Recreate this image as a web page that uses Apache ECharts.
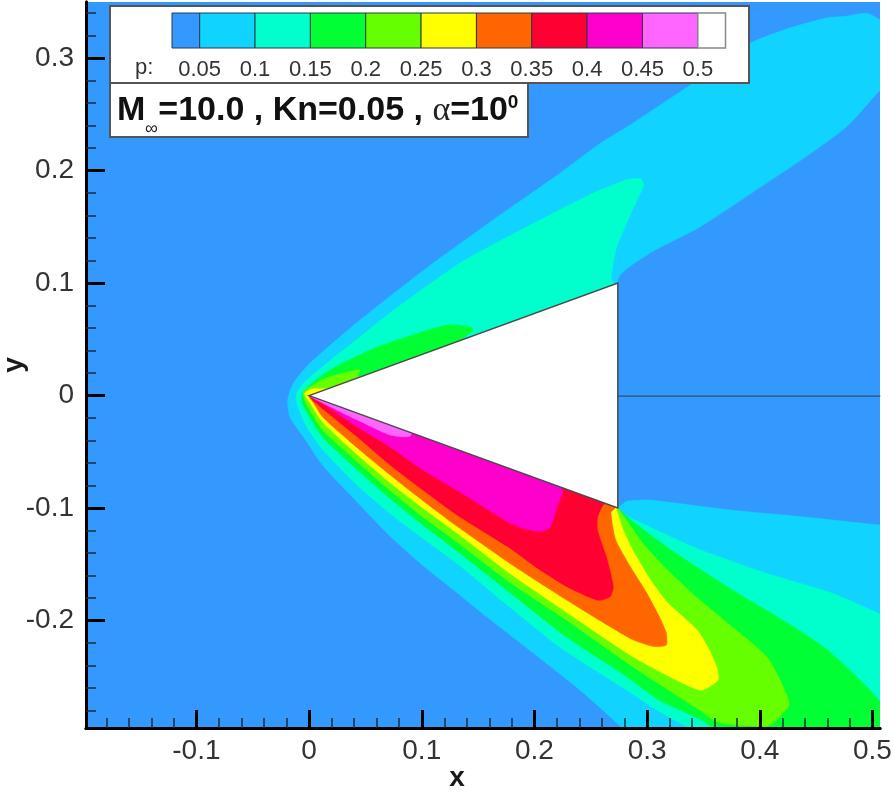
<!DOCTYPE html>
<html>
<head>
<meta charset="utf-8">
<style>html,body{margin:0;padding:0;background:#fff}#c{width:894px;height:794px;filter:blur(0.5px)}</style>
<script src="https://cdn.jsdelivr.net/npm/echarts@6/dist/echarts.min.js"></script>
</head>
<body>
<div id="c"></div>
<script>
const xMajor = [-0.1, 0, 0.1, 0.2, 0.3, 0.4, 0.5];
const yMajor = [-0.2, -0.1, 0, 0.1, 0.2, 0.3];
const xMinor = [-0.18,-0.16,-0.14,-0.12,-0.08,-0.06,-0.04,-0.02,0.02,0.04,0.06,0.08,0.12,0.14,0.16,0.18,0.22,0.24,0.26,0.28,0.32,0.34,0.36,0.38,0.42,0.44,0.46,0.48];
const yMinor = [-0.28,-0.26,-0.24,-0.22,-0.18,-0.16,-0.14,-0.12,-0.08,-0.06,-0.04,-0.02,0.02,0.04,0.06,0.08,0.12,0.14,0.16,0.18,0.22,0.24,0.26,0.28,0.32,0.34];

const levels = [0.05,0.1,0.15,0.2,0.25,0.3,0.35,0.4,0.45,0.5];
const levelEdges = [0.025,0.05,0.1,0.15,0.2,0.25,0.3,0.35,0.4,0.45,0.5,0.525];
const levelColors = ['#3399ff','#10d4ff','#00ffcc','#00ff33','#66ff00','#ffff00','#ff6600','#ff0033','#ff00cc','#ff66ff','#ffffff'];

const band005 = [[-0.019,-0.004],[-0.014,0.011],[0.001,0.029],[0.045,0.067],[0.105,0.114],[0.163,0.156],[0.223,0.198],[0.258,0.224],[0.287,0.242],[0.341,0.278],[0.391,0.313],[0.427,0.327],[0.46,0.336],[0.474,0.337],[0.495,0.34],[0.515,0.33],[0.53,0.33],[0.53,0.29],[0.51,0.275],[0.477,0.239],[0.436,0.209],[0.406,0.189],[0.347,0.15],[0.303,0.127],[0.274,0.103],[0.274,-0.099],[0.282,-0.094],[0.303,-0.093],[0.376,-0.102],[0.44,-0.108],[0.515,-0.116],[0.54,-0.117],[0.54,-0.315],[0.3,-0.315],[0.283,-0.3],[0.243,-0.264],[0.199,-0.229],[0.158,-0.197],[0.131,-0.175],[0.101,-0.151],[0.072,-0.125],[0.043,-0.095],[0.012,-0.062],[-0.002,-0.041],[-0.017,-0.019]];
const band010 = [[-0.011,0.002],[-0.005,0.011],[0.016,0.029],[0.045,0.052],[0.075,0.076],[0.134,0.118],[0.193,0.15],[0.252,0.18],[0.282,0.192],[0.294,0.193],[0.297,0.187],[0.287,0.165],[0.273,0.132],[0.268,0.105],[0.27,0.1],[0.27,0],[0.274,-0.1],[0.303,-0.117],[0.347,-0.137],[0.406,-0.158],[0.465,-0.176],[0.515,-0.198],[0.54,-0.21],[0.54,-0.315],[0.37,-0.315],[0.345,-0.3],[0.311,-0.281],[0.282,-0.262],[0.223,-0.224],[0.178,-0.188],[0.131,-0.149],[0.101,-0.127],[0.072,-0.105],[0.043,-0.08],[0.012,-0.048],[-0.002,-0.028],[-0.011,-0.0067]];
const band015 = [[-0.006,0.002],[0.004,0.012],[0.019,0.023],[0.03,0.029],[0.06,0.043],[0.105,0.058],[0.125,0.063],[0.143,0.061],[0.146,0.058],[0.138,0.051],[0.2,0],[0.274,-0.1],[0.318,-0.135],[0.376,-0.173],[0.421,-0.2],[0.46,-0.226],[0.489,-0.253],[0.515,-0.28],[0.54,-0.3],[0.54,-0.315],[0.38,-0.315],[0.365,-0.3],[0.347,-0.288],[0.311,-0.271],[0.282,-0.25],[0.229,-0.215],[0.178,-0.175],[0.131,-0.138],[0.101,-0.115],[0.072,-0.0915],[0.043,-0.0662],[0.012,-0.0369],[-0.006,-0.0067]];
const band020 = [[-0.005,0.003],[0.016,0.016],[0.045,0.023],[0.043,0.017],[0.2,0],[0.274,-0.1],[0.282,-0.111],[0.296,-0.131],[0.318,-0.155],[0.347,-0.182],[0.376,-0.206],[0.406,-0.232],[0.418,-0.253],[0.426,-0.275],[0.412,-0.291],[0.406,-0.294],[0.38,-0.293],[0.362,-0.29],[0.347,-0.28],[0.287,-0.241],[0.229,-0.2],[0.178,-0.166],[0.131,-0.13],[0.101,-0.108],[0.072,-0.0845],[0.043,-0.059],[0.012,-0.0307],[-0.002,-0.0084]];
const band025 = [[-0.004,0.002],[0.004,0.006],[0.1,0],[0.273,-0.1],[0.273,-0.102],[0.279,-0.12],[0.287,-0.137],[0.303,-0.164],[0.318,-0.184],[0.344,-0.208],[0.354,-0.224],[0.362,-0.242],[0.363,-0.253],[0.347,-0.262],[0.287,-0.232],[0.229,-0.193],[0.178,-0.158],[0.131,-0.122],[0.101,-0.1],[0.072,-0.0775],[0.043,-0.0525],[0.012,-0.0236],[0.001,-0.0067]];
const band030 = [[0,0],[0.2,-0.03],[0.272,-0.099],[0.268,-0.104],[0.272,-0.128],[0.285,-0.152],[0.3,-0.176],[0.311,-0.197],[0.317,-0.211],[0.317,-0.222],[0.305,-0.223],[0.287,-0.217],[0.258,-0.2],[0.229,-0.182],[0.178,-0.149],[0.131,-0.116],[0.101,-0.0935],[0.072,-0.0707],[0.043,-0.0467],[0.012,-0.019],[0.004,-0.0067]];
const band035 = [[0,0],[0.2,-0.03],[0.264,-0.095],[0.261,-0.097],[0.256,-0.108],[0.256,-0.12],[0.264,-0.144],[0.27,-0.17],[0.267,-0.179],[0.256,-0.182],[0.229,-0.17],[0.202,-0.153],[0.178,-0.1356],[0.131,-0.106],[0.101,-0.084],[0.072,-0.0618],[0.043,-0.0369],[0.0275,-0.0244],[0.005,-0.0058]];
const band040 = [[0,0],[0.2,-0.05],[0.225,-0.084],[0.22,-0.099],[0.214,-0.117],[0.205,-0.121],[0.19,-0.118],[0.178,-0.1133],[0.131,-0.084],[0.101,-0.0662],[0.072,-0.0458],[0.043,-0.028],[0.01,-0.0058]];
const band045 = [[0,0],[0.09,-0.02],[0.09,-0.036],[0.072,-0.0351],[0.043,-0.0218],[0.012,-0.0065]];
const bands = [band005,band010,band015,band020,band025,band030,band035,band040,band045];

const cone = [[0,0],[0.274,0.1],[0.274,-0.1]];
const wakeLine = [[0.274,-0.0005],[0.507,-0.0005]];

const FONT = '"Liberation Sans", Arial, sans-serif';
const X0 = -0.198, X1 = 0.5067, Y0 = -0.2956, Y1 = 0.35;

function polySeries(points, fill, stroke, z, smooth) {
  return {
    type: 'custom', coordinateSystem: 'cartesian2d', xAxisIndex: 0, yAxisIndex: 0,
    clip: true, z: z, silent: true, data: points,
    renderItem: function (params, api) {
      if (params.dataIndex !== 0) return null;
      return {
        type: 'polygon',
        shape: { points: points.map(function (p) { return api.coord(p); }), smooth: smooth },
        style: { fill: fill, stroke: stroke || fill, lineWidth: stroke ? 1.5 : 0.5 }
      };
    }
  };
}

const series = bands.map(function (b, i) { return polySeries(b, levelColors[i + 1], null, 1, 0.2); });
series.push(polySeries(cone, '#ffffff', '#4a4a4a', 1, 0));
series.push({
  type: 'line', xAxisIndex: 0, yAxisIndex: 0, data: wakeLine, symbol: 'none', z: 2, silent: true,
  lineStyle: { color: '#2f4f6f', width: 1.2 }
});
series.push({
  type: 'custom', coordinateSystem: 'cartesian2d', xAxisIndex: 2, yAxisIndex: 2, z: 7, silent: true,
  encode: { x: [0, 1] },
  data: levelColors.map(function (c, i) { return [levelEdges[i], levelEdges[i + 1]]; }),
  renderItem: function (params, api) {
    const a = api.coord([api.value(0), 0]);
    const b = api.coord([api.value(1), 1]);
    const last = params.dataIndex === levelColors.length - 1;
    return {
      type: 'rect',
      shape: { x: a[0], y: b[1], width: b[0] - a[0], height: a[1] - b[1] },
      style: { fill: levelColors[params.dataIndex], stroke: last ? '#888888' : '#2a3a4a', lineWidth: last ? 1.5 : 1 }
    };
  }
});

function mainX(extra) {
  return Object.assign({
    type: 'value', gridIndex: 0, min: X0, max: X1, position: 'bottom', z: 3, splitLine: { show: false },
    axisLine: { show: true, onZero: false, lineStyle: { color: '#000', width: 3 } }
  }, extra);
}
function mainY(extra) {
  return Object.assign({
    type: 'value', gridIndex: 0, min: Y0, max: Y1, position: 'left', z: 3, splitLine: { show: false },
    axisLine: { show: true, onZero: false, lineStyle: { color: '#000', width: 3 } }
  }, extra);
}

const option = {
  animation: false,
  backgroundColor: '#ffffff',
  grid: [
    { left: 86, top: 2, width: 794, height: 726, show: true, backgroundColor: '#3399ff', borderWidth: 0, outerBoundsMode: 'none' },
    { left: 172, top: 13, width: 553.5, height: 35, show: false, outerBoundsMode: 'none' }
  ],
  xAxis: [
    mainX({
      name: 'x', nameLocation: 'middle', nameGap: 36, nameMoveOverlap: false,
      nameTextStyle: { fontFamily: FONT, fontSize: 28, fontWeight: 'bold', color: '#1a1a1a', padding: [0, 52, 0, 0] },
      axisTick: { show: true, inside: true, length: 18, customValues: xMajor, lineStyle: { color: '#000', width: 3 } },
      axisLabel: { show: true, margin: 9, customValues: xMajor, fontFamily: FONT, fontSize: 28, color: '#333' }
    }),
    mainX({
      axisLabel: { show: false },
      axisTick: { show: true, inside: true, length: 10, customValues: xMinor, lineStyle: { color: '#1c2c3c', width: 1.5 } }
    }),
    {
      type: 'value', gridIndex: 1, min: 0.025, max: 0.525, position: 'bottom', z: 8, splitLine: { show: false },
      axisLine: { show: false }, axisTick: { show: false },
      axisLabel: { show: true, margin: 11, customValues: levels, hideOverlap: false, fontFamily: FONT, fontSize: 22, color: '#333' }
    }
  ],
  yAxis: [
    mainY({
      name: 'y', nameLocation: 'middle', nameGap: 58, nameRotate: 90, nameMoveOverlap: false,
      nameTextStyle: { fontFamily: FONT, fontSize: 28, fontWeight: 'bold', color: '#1a1a1a' },
      axisTick: { show: true, inside: true, length: 19, customValues: yMajor, lineStyle: { color: '#000', width: 3 } },
      axisLabel: { show: true, margin: 12, customValues: yMajor, fontFamily: FONT, fontSize: 28, color: '#333' }
    }),
    mainY({
      axisLabel: { show: false },
      axisTick: { show: true, inside: true, length: 10, customValues: yMinor, lineStyle: { color: '#1c2c3c', width: 1.5 } }
    }),
    { type: 'value', gridIndex: 1, min: 0, max: 1, show: false }
  ],
  graphic: [
    { type: 'rect', z: 5, shape: { x: 110, y: 6, width: 639, height: 77 }, style: { fill: '#fff', stroke: '#555', lineWidth: 2 } },
    { type: 'rect', z: 5, shape: { x: 110, y: 83, width: 418, height: 54 }, style: { fill: '#fff', stroke: '#555', lineWidth: 2 } },
    { type: 'text', z: 8, x: 135, y: 57, style: { text: 'p:', fontFamily: FONT, fontSize: 22, fill: '#333' } },
    { type: 'text', z: 8, x: 145, y: 120, style: { text: '\u221E', fontFamily: FONT, fontSize: 18, fill: '#222' } },
    { type: 'text', z: 8, x: 117, y: 93, style: {
        text: '{b|M}{s| }{b|=10.0 , Kn=0.05 , }{g|\u03B1}{b|=10}{u|0}',
        fontFamily: FONT,
        rich: {
          b: { fontFamily: FONT, fontSize: 34, fontWeight: 'bold', fill: '#111', lineHeight: 36 },
          s: { fontFamily: FONT, fontSize: 16, width: 13, lineHeight: 36 },
          g: { fontFamily: '"Liberation Serif", serif', fontSize: 34, fill: '#222', lineHeight: 36 },
          u: { fontFamily: FONT, fontSize: 19, fontWeight: 'bold', fill: '#111', verticalAlign: 'top', lineHeight: 36 }
        }
      }
    }
  ],
  series: series
};

const chart = echarts.init(document.getElementById('c'), null, { renderer: 'canvas', width: 894, height: 794 });
chart.setOption(option);
</script>
</body>
</html>
